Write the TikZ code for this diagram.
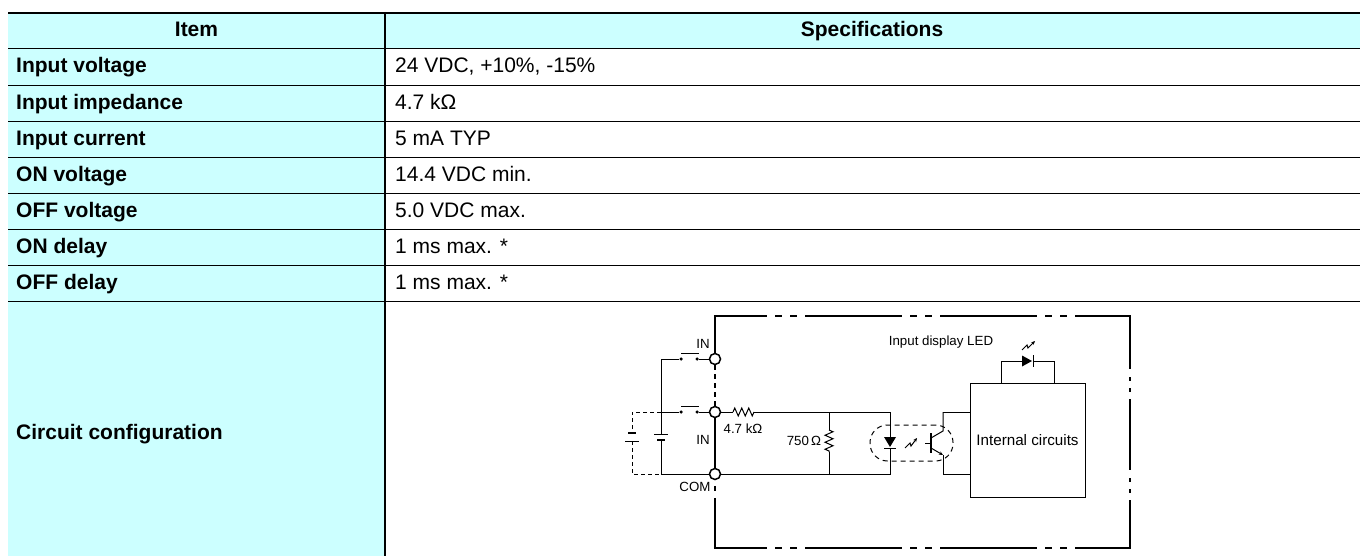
\documentclass[tikz,border=0pt]{standalone}
\usepackage{fontspec}
\setmainfont{Liberation Sans}
\usetikzlibrary{positioning,calc,arrows.meta,decorations.pathmorphing}
\definecolor{itemcyan}{RGB}{204,255,255}

\begin{document}
\begin{tikzpicture}[x=1pt, y=-1pt,
    itemtxt/.style={anchor=base west, inner sep=0pt, font=\fontsize{21}{24}\selectfont\bfseries},
    spectxt/.style={anchor=base west, inner sep=0pt, font=\fontsize{21}{24}\selectfont},
    headtxt/.style={anchor=base, inner sep=0pt, font=\fontsize{21}{24}\selectfont\bfseries},
    lbl/.style={inner sep=0pt, font=\fontsize{13.3}{15}\selectfont},
    wire/.style={line width=1pt},
    border/.style={line width=2.5pt},
    term/.style={circle, draw, fill=white, line width=1.5pt, minimum size=11pt, inner sep=0pt},
    contact/.style={circle, fill, minimum size=3.5pt, inner sep=0pt},
    resistor/.style={wire, decorate, decoration={zigzag, amplitude=4pt, segment length=7pt}},
    borderdash/.style={border, dash pattern=on 97pt off 8pt on 7pt off 8pt on 7pt off 8pt}]

\useasboundingbox (0,0) rectangle (1360,556);

% table background and rules
\fill[itemcyan] (8,13) rectangle (1360,48);
\fill[itemcyan] (8,48) rectangle (385,556);
\draw[line width=2pt] (8,13) -- (1360,13);
\foreach \y in {48,85,121,157,193,229,265,301}
    \draw[line width=0.9pt] (8,\y) -- (1360,\y);
\draw[line width=2pt] (385,12) -- (385,556);

% header
\node[headtxt] (item) at (196.5,37) {Item};
\node[headtxt] (specs) at (872,37) {Specifications};

% rows
\foreach \y/\itemname/\spectext in {
    66/{Input voltage}/{24 VDC, +10\%, -15\%},
    103/{Input impedance}/{4.7 kΩ},
    139/{Input current}/{5 mA TYP},
    175/{ON voltage}/{14.4 VDC min.},
    211/{OFF voltage}/{5.0 VDC max.},
    247/{ON delay}/{1 ms max. *},
    283/{OFF delay}/{1 ms max. *}}
{
    \node[itemtxt] (item\y) at (16,\y+6.5) {\itemname};
    \node[spectxt] (spec\y) at (395,\y+6.5) {\spectext};
}
\node[itemtxt] (circlbl) at (16,439.5) {Circuit configuration};

% terminals
\node[term] (tin1) at (715,359) {};
\node[term] (tin2) at (715,412) {};
\node[term] (tcom) at (715,474) {};

% unit frame
\coordinate (ftl) at (715,316);
\coordinate (ftr) at (1130,316);
\coordinate (fbr) at (1130,548);
\coordinate (fbl) at (715,548);
\draw[border] (tin1) -- (ftl);
\draw[borderdash, dash phase=43.75pt, shorten <=-1.25pt, shorten >=-1.25pt] (ftl) -- (ftr);
\draw[border, dash pattern=on 71pt off 8pt on 4pt off 7pt on 4pt off 7pt, dash phase=18pt] (ftr) -- (fbr);
\draw[borderdash, dash phase=43.75pt, shorten <=-1.25pt, shorten >=-1.25pt] (fbl) -- (fbr);
\draw[border, dash pattern=on 5pt off 4pt] (tin1) -- (tin2);
\draw[border] (tin2) -- (tcom);
\draw[border, dash pattern=on 0pt off 5.5pt on 5pt off 7pt on 80pt] (tcom) -- (fbl);

% switches and supply
\node[contact] (s1a) at (681,359) {};
\node[contact] (s1b) at (697,359) {};
\node[contact] (s2a) at (681,412) {};
\node[contact] (s2b) at (697,412) {};
\coordinate (ltop) at (661,359);
\coordinate (lmid) at (661,412);
\coordinate (lbot) at (661,474);
\coordinate (bat1) at (661,434);
\coordinate (bat2) at (661,440);
\coordinate (xtop) at (632,412);
\coordinate (xbot) at (632,474);
\coordinate (xbat1) at (632,433);
\coordinate (xbat2) at (632,441);

\draw[wire] (s1a) -- (ltop) -- (bat1);
\draw[wire] (bat2) -- (lbot) -- (tcom);
\draw[wire] (s2a) -- (lmid);
\draw[wire] (s1b) -- (tin1);
\draw[wire] (s2b) -- (tin2);
\draw[wire] ([yshift=6pt]s1a.center) -- ([xshift=2pt,yshift=6pt]s1b.center);
\draw[wire] ([yshift=6pt]s2a.center) -- ([xshift=2pt,yshift=6pt]s2b.center);
\draw[wire] ([xshift=-7pt]bat1) -- ([xshift=7pt]bat1);
\draw[line width=2.5pt] ([xshift=-4pt]bat2) -- ([xshift=4pt]bat2);
\draw[wire, dash pattern=on 4pt off 3pt] (lmid) -- (xtop) -- (xbat1);
\draw[wire, dash pattern=on 4pt off 3pt] (xbat2) -- (xbot) -- (lbot);
\draw[line width=2.5pt] ([xshift=-4pt]xbat1) -- ([xshift=4pt]xbat1);
\draw[wire] ([xshift=-7pt]xbat2) -- ([xshift=7pt]xbat2);

% input circuit
\coordinate (r1a) at (733,412);
\coordinate (r1b) at (754,412);
\coordinate (r2t) at (829,412);
\coordinate (r2a) at (829,430);
\coordinate (r2b) at (829,452);
\coordinate (r2bt) at (829,474);
\coordinate (ntop) at (890,412);
\coordinate (nbot) at (890,474);
\coordinate (led1) at (890,437);
\coordinate (led2) at (890,448);
\draw[wire] (tin2) -- (r1a);
\draw[resistor] (r1a) -- (r1b);
\draw[wire] (r1b) -- (ntop) -- (led1);
\draw[wire] (led2) -- (nbot) -- (tcom);
\draw[wire] (r2t) -- (r2a);
\draw[resistor] (r2a) -- (r2b);
\draw[wire] (r2b) -- (r2bt);
\fill (led1) ++(-6,0) -- ++(12,0) -- ++(-6,10) -- cycle;
\draw[wire] ([xshift=-6pt]led2) -- ([xshift=6pt]led2);

% photocoupler
\node[draw, wire, dash pattern=on 5pt off 4pt, rounded corners=17.5pt, minimum width=83pt, minimum height=36pt, inner sep=0pt] (coupler) at (911.5,443) {};
\draw[wire, -{Stealth[length=4pt, width=3.5pt]}] (905,448) -- (910,443) -- (911,446) -- (917,438);
\coordinate (qb) at (931,443);
\coordinate (qc) at (943,412);
\coordinate (qe) at (943,474);
\draw[line width=1.5pt] (931,433) -- (931,453);
\draw[wire] (925,443) -- (qb);
\draw[wire] (931,438) -- (943,431) -- (qc);
\draw[wire, -{Stealth[length=4pt, width=3.5pt]}] (931,448) -- (943,455);
\draw[wire] (943,455) -- (qe);

% internal circuits
\node[draw, wire, minimum width=115pt, minimum height=114pt, inner sep=0pt, font=\fontsize{15.2}{18}\selectfont] (intc) at (1027.5,440) {Internal circuits};
\draw[wire] (qc) -- (qc -| intc.west);
\draw[wire] (qe) -- (qe -| intc.west);

% display LED
\coordinate (dl1) at (1001,383);
\coordinate (dl2) at (1054,383);
\coordinate (dla) at (1022,361);
\coordinate (dlb) at (1033,361);
\draw[wire] (dl1) |- (dla);
\draw[wire] (dlb) -| (dl2);
\fill (dla) ++(0,-5.5) -- ++(10,5.5) -- ++(-10,5.5) -- cycle;
\draw[wire] ([yshift=6pt]dlb) -- ([yshift=-6pt]dlb);
\draw[wire, -{Stealth[length=4pt, width=3.5pt]}] (1022,350) -- (1027,345) -- (1028,348) -- (1035,341);

% labels
\node[lbl] (lin1) at (703,344) {IN};
\node[lbl] (lin2) at (703,440) {IN};
\node[lbl] (lcom) at (695,487) {COM};
\node[lbl] (lr1) at (743,429) {4.7 kΩ};
\node[lbl] (lr2) at (804,441) {750\,Ω};
\node[lbl] (lled) at (941,342) {Input display LED};

\end{tikzpicture}
\end{document}
